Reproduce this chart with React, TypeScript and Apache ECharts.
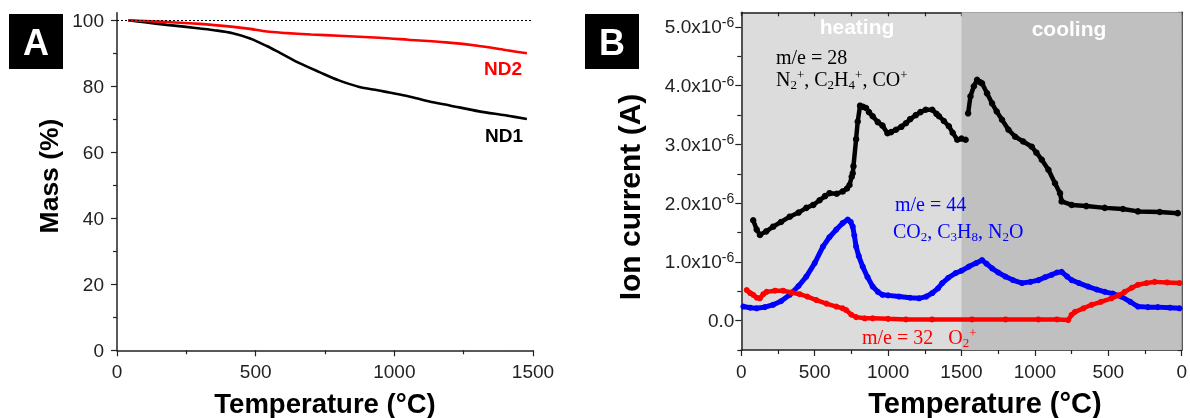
import { useEffect, useRef } from 'react';
import * as echarts from 'echarts';

// ---------- Panel A: TGA mass loss ----------
const tempND1 = [40, 100, 180, 250, 300, 350, 417, 480, 540, 586, 658, 730, 800, 874, 940, 982, 1050, 1126, 1200, 1306, 1400, 1478];
const massND1 = [100, 99.4, 98.6, 98.0, 97.5, 97.0, 96.1, 94.5, 92.2, 90.2, 87.0, 84.3, 81.8, 79.8, 78.8, 78.1, 77.0, 75.4, 74.2, 72.4, 71.2, 70.1];
const tempND2 = [40, 150, 300, 420, 480, 540, 600, 700, 800, 946, 1050, 1186, 1300, 1400, 1478];
const massND2 = [100, 99.6, 98.9, 98.0, 97.4, 96.6, 96.2, 95.7, 95.3, 94.7, 94.1, 93.3, 92.3, 91.0, 90.0];
const massTicks = [0, 20, 40, 60, 80, 100];
const massMinorTicks = [10, 30, 50, 70, 90];

// ---------- Panel B: ion current (units of 1e-6 A) ----------
// x = process coordinate: 0..1500 heating, 1500..3000 cooling (shown as 1500..0)
const ms28X = [81, 105, 127, 170, 217, 270, 330, 390, 443, 490, 533, 570, 601, 650, 691, 720, 737, 752, 759, 764, 782, 793, 809, 830, 850, 870, 895, 930, 962, 996, 1020, 1053, 1090, 1121, 1150, 1189, 1220, 1256, 1301, 1330, 1347, 1380, 1414, 1440, 1471, 1500, 1528, null, 1545, 1561, 1584, 1606, 1625, 1640, 1674, 1708, 1740, 1776, 1820, 1866, 1920, 1979, 2010, 2047, 2092, 2137, 2171, 2182, 2250, 2350, 2476, 2600, 2702, 2850, 2973];
const ms28Y = [1.71, 1.55, 1.46, 1.52, 1.60, 1.68, 1.77, 1.84, 1.92, 1.97, 2.05, 2.12, 2.17, 2.16, 2.20, 2.25, 2.31, 2.45, 2.51, 2.63, 3.09, 3.39, 3.66, 3.64, 3.62, 3.55, 3.48, 3.38, 3.32, 3.19, 3.21, 3.25, 3.30, 3.36, 3.43, 3.50, 3.55, 3.59, 3.59, 3.52, 3.48, 3.40, 3.31, 3.20, 3.08, 3.10, 3.08, null, 3.53, 3.82, 3.99, 4.10, 4.06, 4.04, 3.87, 3.70, 3.56, 3.42, 3.25, 3.13, 3.05, 2.96, 2.86, 2.74, 2.57, 2.34, 2.17, 2.03, 1.97, 1.95, 1.92, 1.90, 1.86, 1.85, 1.83];

const ms44X = [14, 60, 104, 160, 217, 270, 330, 390, 443, 500, 556, 600, 647, 690, 725, 745, 759, 770, 782, 800, 827, 860, 895, 930, 962, 1000, 1075, 1150, 1211, 1260, 1301, 1340, 1369, 1410, 1460, 1500, 1550, 1600, 1640, 1670, 1708, 1750, 1799, 1850, 1912, 1970, 2024, 2070, 2114, 2150, 2182, 2220, 2250, 2300, 2363, 2420, 2476, 2530, 2589, 2650, 2702, 2770, 2837, 2920, 2985];
const ms44Y = [0.24, 0.22, 0.21, 0.23, 0.27, 0.33, 0.44, 0.59, 0.75, 0.98, 1.26, 1.42, 1.55, 1.66, 1.72, 1.68, 1.60, 1.45, 1.26, 1.10, 0.92, 0.74, 0.58, 0.49, 0.44, 0.43, 0.41, 0.39, 0.38, 0.41, 0.47, 0.55, 0.64, 0.73, 0.81, 0.85, 0.92, 0.98, 1.03, 0.97, 0.89, 0.82, 0.75, 0.69, 0.64, 0.66, 0.69, 0.74, 0.78, 0.82, 0.83, 0.75, 0.69, 0.64, 0.58, 0.53, 0.49, 0.46, 0.41, 0.32, 0.24, 0.23, 0.23, 0.22, 0.21];

const ms32X = [37, 60, 81, 105, 127, 150, 172, 230, 285, 340, 398, 450, 511, 580, 647, 690, 714, 750, 782, 840, 895, 1000, 1121, 1300, 1572, 1800, 2024, 2150, 2227, 2250, 2273, 2330, 2386, 2450, 2521, 2570, 2612, 2660, 2702, 2760, 2815, 2900, 2985];
const ms32Y = [0.52, 0.47, 0.44, 0.39, 0.38, 0.45, 0.49, 0.51, 0.51, 0.48, 0.45, 0.41, 0.35, 0.29, 0.24, 0.21, 0.18, 0.10, 0.06, 0.04, 0.04, 0.03, 0.02, 0.02, 0.02, 0.02, 0.02, 0.02, 0.01, 0.10, 0.15, 0.21, 0.27, 0.32, 0.38, 0.43, 0.49, 0.56, 0.61, 0.64, 0.66, 0.65, 0.64];

const ionTicks = [0, 1, 2, 3, 4, 5];
const ionMinorTicks = [-0.5, 0.5, 1.5, 2.5, 3.5, 4.5];

const SANS = '"Liberation Sans", Arial, sans-serif';
const SERIF = '"Liberation Serif", "Times New Roman", serif';
const AX = '#222';

const zip = (xs: (number | null)[], ys: (number | null)[]) =>
  xs.map((x, i) => (x === null || ys[i] === null ? [null, null] : [x, ys[i]]));

const axisLine = { show: true, onZero: false, lineStyle: { color: AX, width: 1.5 } };
const tickLabel = { color: AX, fontSize: 19, fontFamily: SANS };

function buildOption() {
  const serifRich = (color: string) => ({
    sub: { fontSize: 13, fontFamily: SERIF, fill: color, padding: [10, 0, 0, 0] },
    sup: { fontSize: 13, fontFamily: SERIF, fill: color, padding: [0, 0, 9, 0] },
  });
  return {
    animation: false,
    grid: [
      { left: 117, top: 12.7, width: 416, height: 337.6 },
      { left: 741.3, top: 12.3, width: 443, height: 337.7, show: true, backgroundColor: '#dcdcdc', borderWidth: 0 },
    ],
    xAxis: [
      {
        gridIndex: 0, type: 'value', min: 0, max: 1500, interval: 500,
        axisLine, axisTick: { show: true, length: 6, lineStyle: { color: AX, width: 1.2 } },
        minorTick: { show: true, splitNumber: 2, length: 4, lineStyle: { color: AX, width: 1.2 } },
        axisLabel: { ...tickLabel, margin: 12, formatter: (v: number) => String(v) }, splitLine: { show: false },
      },
      {
        gridIndex: 1, type: 'value', min: 0, max: 3000, interval: 500, position: 'bottom',
        axisLine, axisTick: { show: true, length: 6, lineStyle: { color: AX, width: 1.2 } },
        minorTick: { show: true, splitNumber: 2, length: 4, lineStyle: { color: AX, width: 1.2 } },
        axisLabel: { ...tickLabel, margin: 12, formatter: (v: number) => String(v <= 1500 ? v : 3000 - v) },
        splitLine: { show: false },
      },
      {
        gridIndex: 1, type: 'value', min: 0, max: 3000, interval: 250, position: 'top',
        axisLine, axisTick: { show: true, inside: true, length: 4, lineStyle: { color: AX, width: 1.2 } },
        axisLabel: { show: false }, splitLine: { show: false },
      },
    ],
    yAxis: [
      {
        gridIndex: 0, type: 'value', min: 0, max: 102.3, position: 'left',
        axisLine, axisTick: { show: true, length: 6, customValues: massTicks, lineStyle: { color: AX, width: 1.2 } },
        axisLabel: { ...tickLabel, margin: 13, customValues: massTicks }, splitLine: { show: false },
      },
      {
        gridIndex: 0, type: 'value', min: 0, max: 102.3, position: 'left',
        axisLine: { show: false }, axisTick: { show: true, length: 4, customValues: massMinorTicks, lineStyle: { color: AX, width: 1.2 } },
        axisLabel: { show: false }, splitLine: { show: false },
      },
      {
        gridIndex: 1, type: 'value', min: -0.5, max: 5.25, position: 'left',
        axisLine, axisTick: { show: true, length: 6, customValues: ionTicks, lineStyle: { color: AX, width: 1.2 } },
        axisLabel: {
          ...tickLabel, margin: 7, customValues: ionTicks,
          formatter: (v: number) => (v === 0 ? '0.0' : `${v.toFixed(1)}x10{sup|-6}`),
          rich: { sup: { fontSize: 14, fontFamily: SANS, color: AX, padding: [0, 0, 10, 0] } },
        },
        splitLine: { show: false },
      },
      {
        gridIndex: 1, type: 'value', min: -0.5, max: 5.25, position: 'left',
        axisLine: { show: false }, axisTick: { show: true, length: 4, customValues: ionMinorTicks, lineStyle: { color: AX, width: 1.2 } },
        axisLabel: { show: false }, splitLine: { show: false },
      },
      {
        gridIndex: 1, type: 'value', min: -0.5, max: 5.25, interval: 0.5, position: 'right',
        axisLine, axisTick: { show: true, inside: true, length: 4, lineStyle: { color: AX, width: 1.2 } },
        axisLabel: { show: false }, splitLine: { show: false },
      },
    ],
    series: [
      {
        type: 'line', xAxisIndex: 0, yAxisIndex: 0, data: zip(tempND1, massND1), smooth: 0.3,
        showSymbol: false, lineStyle: { color: '#000', width: 2.6 }, itemStyle: { color: '#000' }, z: 3,
        markLine: {
          silent: true, symbol: 'none', label: { show: false },
          lineStyle: { color: '#000', width: 1, type: [2, 2] }, data: [{ yAxis: 100 }],
        },
      },
      {
        type: 'line', xAxisIndex: 0, yAxisIndex: 0, data: zip(tempND2, massND2), smooth: 0.3,
        showSymbol: false, lineStyle: { color: '#ff0000', width: 2.6 }, itemStyle: { color: '#ff0000' }, z: 3,
      },
      {
        type: 'line', xAxisIndex: 1, yAxisIndex: 2, data: [], z: 1,
        markArea: { silent: true, itemStyle: { color: '#c0c0c0' }, data: [[{ xAxis: 1500 }, { xAxis: 3000 }]] },
      },
      {
        type: 'line', xAxisIndex: 1, yAxisIndex: 2, data: zip(ms44X, ms44Y), connectNulls: false,
        symbol: 'circle', symbolSize: 6, showSymbol: true, showAllSymbol: true,
        lineStyle: { color: '#0000ff', width: 5 }, itemStyle: { color: '#0000ff' }, z: 3,
      },
      {
        type: 'line', xAxisIndex: 1, yAxisIndex: 2, data: zip(ms32X, ms32Y), connectNulls: false,
        symbol: 'circle', symbolSize: 6, showSymbol: true, showAllSymbol: true,
        lineStyle: { color: '#ff0000', width: 4.5 }, itemStyle: { color: '#ff0000' }, z: 4,
      },
      {
        type: 'line', xAxisIndex: 1, yAxisIndex: 2, data: zip(ms28X, ms28Y), connectNulls: false,
        symbol: 'circle', symbolSize: 6.5, showSymbol: true, showAllSymbol: true,
        lineStyle: { color: '#000', width: 4.5 }, itemStyle: { color: '#000' }, z: 5,
      },
    ],
    graphic: [
      // panel letters
      { type: 'rect', shape: { x: 9, y: 14, width: 54, height: 55 }, style: { fill: '#000' }, z: 10 },
      { type: 'text', x: 36, y: 42, style: { text: 'A', fill: '#fff', fontSize: 36, fontWeight: 'bold', fontFamily: SANS, align: 'center', verticalAlign: 'middle' }, z: 11 },
      { type: 'rect', shape: { x: 585, y: 14, width: 54, height: 55 }, style: { fill: '#000' }, z: 10 },
      { type: 'text', x: 612, y: 42, style: { text: 'B', fill: '#fff', fontSize: 36, fontWeight: 'bold', fontFamily: SANS, align: 'center', verticalAlign: 'middle' }, z: 11 },
      // axis titles
      { type: 'text', x: 325, y: 403, style: { text: 'Temperature (°C)', fill: '#000', fontSize: 27.5, fontWeight: 'bold', fontFamily: SANS, align: 'center', verticalAlign: 'middle' } },
      { type: 'text', x: 985, y: 403, style: { text: 'Temperature (°C)', fill: '#000', fontSize: 29, fontWeight: 'bold', fontFamily: SANS, align: 'center', verticalAlign: 'middle' } },
      { type: 'text', x: 48.5, y: 176, rotation: Math.PI / 2, style: { text: 'Mass (%)', fill: '#000', fontSize: 26.5, fontWeight: 'bold', fontFamily: SANS, align: 'center', verticalAlign: 'middle' } },
      { type: 'text', x: 629, y: 197, rotation: Math.PI / 2, style: { text: 'Ion current (A)', fill: '#000', fontSize: 30, fontWeight: 'bold', fontFamily: SANS, align: 'center', verticalAlign: 'middle' } },
      // panel A labels
      { type: 'text', x: 484, y: 68, style: { text: 'ND2', fill: '#ff0000', fontSize: 19, fontWeight: 'bold', fontFamily: SANS, align: 'left', verticalAlign: 'middle' }, z: 10 },
      { type: 'text', x: 485, y: 135, style: { text: 'ND1', fill: '#000', fontSize: 19, fontWeight: 'bold', fontFamily: SANS, align: 'left', verticalAlign: 'middle' }, z: 10 },
      // panel B region labels
      { type: 'text', x: 857, y: 26, style: { text: 'heating', fill: '#fff', fontSize: 21, fontWeight: 'bold', fontFamily: SANS, align: 'center', verticalAlign: 'middle' }, z: 10 },
      { type: 'text', x: 1069, y: 28, style: { text: 'cooling', fill: '#fff', fontSize: 21, fontWeight: 'bold', fontFamily: SANS, align: 'center', verticalAlign: 'middle' }, z: 10 },
      // species annotations
      { type: 'text', x: 776, y: 57, style: { text: 'm/e = 28', fill: '#000', fontSize: 20, fontFamily: SERIF, align: 'left', verticalAlign: 'middle' }, z: 10 },
      { type: 'text', x: 776, y: 79, style: { text: 'N{sub|2}{sup|+}, C{sub|2}H{sub|4}{sup|+}, CO{sup|+}', fill: '#000', fontSize: 20, fontFamily: SERIF, align: 'left', verticalAlign: 'middle', rich: serifRich('#000') }, z: 10 },
      { type: 'text', x: 895, y: 204, style: { text: 'm/e = 44', fill: '#0000ff', fontSize: 20, fontFamily: SERIF, align: 'left', verticalAlign: 'middle' }, z: 10 },
      { type: 'text', x: 893, y: 231, style: { text: 'CO{sub|2}, C{sub|3}H{sub|8}, N{sub|2}O', fill: '#0000ff', fontSize: 20, fontFamily: SERIF, align: 'left', verticalAlign: 'middle', rich: serifRich('#0000ff') }, z: 10 },
      { type: 'text', x: 862, y: 337, style: { text: 'm/e = 32   O{sub|2}{sup|+}', fill: '#ff0000', fontSize: 20, fontFamily: SERIF, align: 'left', verticalAlign: 'middle', rich: serifRich('#ff0000') }, z: 10 },
    ],
  };
}

export default function App() {
  const ref = useRef<HTMLDivElement>(null);
  useEffect(() => {
    if (!ref.current) return;
    const chart = echarts.init(ref.current, null, { renderer: 'svg' });
    chart.setOption(buildOption() as any);
    return () => chart.dispose();
  }, []);
  return <div ref={ref} style={{ position: 'fixed', left: 0, top: 0, width: 1190, height: 418 }} />;
}
